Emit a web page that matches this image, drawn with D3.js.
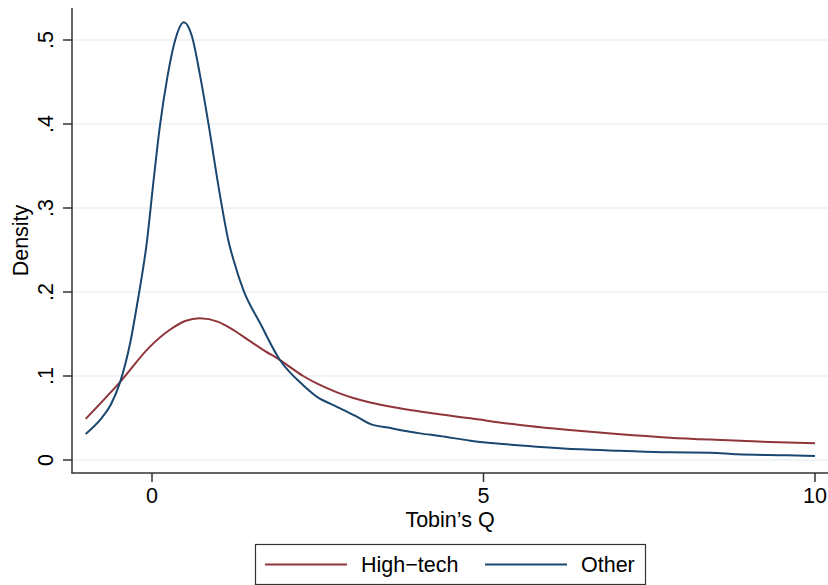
<!DOCTYPE html>
<html>
<head>
<meta charset="utf-8">
<script src="https://cdn.jsdelivr.net/npm/d3@7"></script>
<style>
  body { margin: 0; background: #fff; }
  text { font-family: "Liberation Sans", Arial, sans-serif; fill: #000; }
</style>
</head>
<body>
<script>
var width = 828;
var height = 585;

// kernel density estimates
var hightechX = [-1.0, -0.48, -0.03, 0.27, 0.5, 0.72, 1.0, 1.2, 1.45, 1.7, 1.93, 2.28, 2.5, 2.79, 3.05, 3.29, 3.65, 4.04, 4.4, 4.8, 5.55, 6.3, 7.06, 7.81, 8.57, 9.32, 10];
var hightechY = [0.049, 0.093, 0.135, 0.155, 0.1655, 0.1687, 0.1645, 0.156, 0.143, 0.13, 0.119, 0.1, 0.0905, 0.0805, 0.0735, 0.0685, 0.0627, 0.0578, 0.0538, 0.0496, 0.0417, 0.0357, 0.0306, 0.0266, 0.0238, 0.0214, 0.0199];

var otherX = [-1.0, -0.78, -0.62, -0.48, -0.33, -0.21, -0.08, 0.02, 0.12, 0.23, 0.35, 0.48, 0.6, 0.72, 0.85, 1.03, 1.15, 1.23, 1.38, 1.63, 1.93, 2.28, 2.53, 2.68, 2.9, 3.09, 3.29, 3.6, 4.04, 4.34, 4.8, 5.3, 5.8, 6.46, 7.06, 7.81, 8.42, 8.82, 9.57, 10];
var otherY = [0.031, 0.048, 0.066, 0.093, 0.139, 0.192, 0.258, 0.33, 0.398, 0.455, 0.5, 0.521, 0.505, 0.46, 0.401, 0.313, 0.262, 0.238, 0.202, 0.163, 0.119, 0.089, 0.073, 0.0675, 0.059, 0.0516, 0.043, 0.038, 0.0317, 0.0286, 0.023, 0.019, 0.0159, 0.0127, 0.011, 0.0091, 0.0087, 0.0068, 0.0056, 0.0048];

var xTicks = [0, 5, 10];
var yTicks = [0, 0.1, 0.2, 0.3, 0.4, 0.5];
var yTickLabels = ["0", ".1", ".2", ".3", ".4", ".5"];

var seriesNames = ["High\u2212tech", "Other"];
var colors = ["#90353b", "#1a476f"];

var svg = d3.select('body')
    .append('svg')
    .attr('width', width)
    .attr('height', height);

var x = d3.scaleLinear().domain([0, 10]).range([152, 815]);
var y = d3.scaleLinear().domain([0, 0.5]).range([460, 40]);

var plotLeft = 72, plotTop = 8, plotBottom = 473, plotRight = width;
var fontSize = 21.5;

// grid lines
svg.append('g').selectAll('line')
    .data(yTicks)
    .enter()
    .append('line')
    .attr('x1', plotLeft)
    .attr('x2', plotRight)
    .attr('y1', d => y(d))
    .attr('y2', d => y(d))
    .attr('stroke', '#eaf2f3')
    .attr('stroke-width', 1.5);

// curves
var line = d3.line()
    .x(d => x(d[0]))
    .y(d => y(d[1]))
    .curve(d3.curveMonotoneX);

var series = [d3.zip(hightechX, hightechY), d3.zip(otherX, otherY)];

svg.append('g').selectAll('path')
    .data(series)
    .enter()
    .append('path')
    .attr('d', line)
    .attr('fill', 'none')
    .attr('stroke', (d, i) => colors[i])
    .attr('stroke-width', 2);

// y axis
var yAxis = svg.append('g');
yAxis.append('line')
    .attr('x1', plotLeft).attr('x2', plotLeft)
    .attr('y1', plotTop).attr('y2', plotBottom)
    .attr('stroke', '#333').attr('stroke-width', 1.5);
yAxis.selectAll('.tick')
    .data(yTicks)
    .enter()
    .append('line')
    .attr('x1', plotLeft - 9).attr('x2', plotLeft)
    .attr('y1', d => y(d)).attr('y2', d => y(d))
    .attr('stroke', '#333').attr('stroke-width', 1.5);
yAxis.selectAll('text')
    .data(yTicks)
    .enter()
    .append('text')
    .attr('transform', d => 'translate(53,' + y(d) + ') rotate(-90)')
    .attr('text-anchor', 'middle')
    .style('font-size', fontSize + 'px')
    .text((d, i) => yTickLabels[i]);

svg.append('text')
    .attr('transform', 'translate(28,' + ((plotTop + plotBottom) / 2) + ') rotate(-90)')
    .attr('text-anchor', 'middle')
    .style('font-size', fontSize + 'px')
    .text('Density');

// x axis
var xAxis = svg.append('g');
xAxis.append('line')
    .attr('x1', plotLeft - 0.75).attr('x2', plotRight)
    .attr('y1', plotBottom).attr('y2', plotBottom)
    .attr('stroke', '#333').attr('stroke-width', 1.5);
xAxis.selectAll('.tick')
    .data(xTicks)
    .enter()
    .append('line')
    .attr('x1', d => x(d)).attr('x2', d => x(d))
    .attr('y1', plotBottom).attr('y2', plotBottom + 9)
    .attr('stroke', '#333').attr('stroke-width', 1.5);
xAxis.selectAll('text')
    .data(xTicks)
    .enter()
    .append('text')
    .attr('x', d => x(d))
    .attr('y', 503)
    .attr('text-anchor', 'middle')
    .style('font-size', fontSize + 'px')
    .text(d => d);

svg.append('text')
    .attr('x', (plotLeft + plotRight) / 2)
    .attr('y', 527)
    .attr('text-anchor', 'middle')
    .style('font-size', fontSize + 'px')
    .text('Tobin\u2019s Q');

// legend
var legend = svg.append('g');
legend.append('rect')
    .attr('x', 255.5).attr('y', 544.5)
    .attr('width', 390).attr('height', 40)
    .attr('fill', '#fff')
    .attr('stroke', '#333').attr('stroke-width', 1.2);

var legendX = [265, 485];
legend.selectAll('line')
    .data(seriesNames)
    .enter()
    .append('line')
    .attr('x1', (d, i) => legendX[i]).attr('x2', (d, i) => legendX[i] + 82)
    .attr('y1', 564.5).attr('y2', 564.5)
    .attr('stroke', (d, i) => colors[i])
    .attr('stroke-width', 2);
legend.selectAll('text')
    .data(seriesNames)
    .enter()
    .append('text')
    .attr('x', (d, i) => legendX[i] + 96)
    .attr('y', 572)
    .style('font-size', fontSize + 'px')
    .text(d => d);
</script>
</body>
</html>
